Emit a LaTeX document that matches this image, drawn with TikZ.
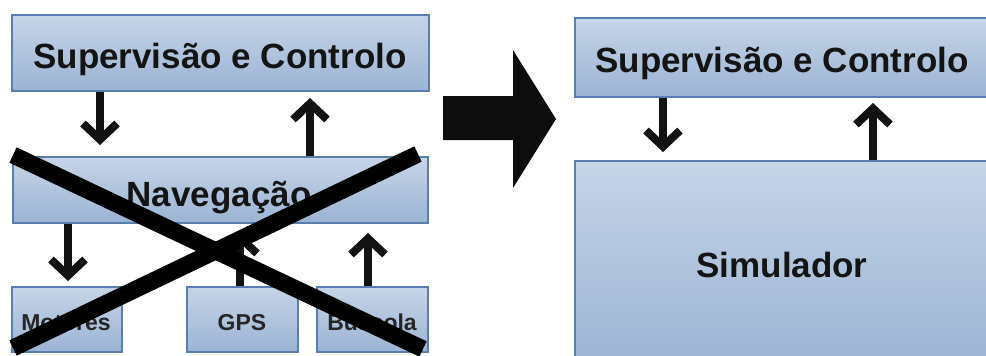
\documentclass[tikz,border=0pt]{standalone}
\usepackage{fontspec}
\setmainfont{Liberation Sans}
\usetikzlibrary{arrows.meta}
\definecolor{boxtop}{HTML}{C6D5E8}
\definecolor{boxbot}{HTML}{9BB3D4}
\definecolor{boxline}{HTML}{5A7EAD}
\tikzset{
  blk/.style={rectangle, draw=boxline, line width=1.3pt, top color=boxtop, bottom color=boxbot, inner sep=0pt},
  bigtxt/.style={font=\bfseries\fontsize{35}{40}\selectfont, inner sep=0pt, anchor=base, text=black!92},
  smalltxt/.style={font=\bfseries\fontsize{23}{26}\selectfont, inner sep=0pt, anchor=base, text=black!85},
  flow/.style={draw=black!93, line width=8pt, -{Straight Barb[length=16pt,width=34pt,line width=8pt]}},
  cross/.style={draw=black, line width=17pt},
  bigarrow/.style={fill=black!95},
}
\begin{document}
\begin{tikzpicture}[x=1pt,y=-1pt]
\useasboundingbox (0,0) rectangle (986,356);
\clip (0,0) rectangle (986,356);
% left side boxes
\node[blk, minimum width=417pt, minimum height=76pt] (sc1) at (220.5,53) {};
\node[blk, minimum width=415pt, minimum height=66pt] (nav) at (220.5,190) {};
\node[blk, minimum width=110pt, minimum height=65pt] (mot) at (67,319.5) {};
\node[blk, minimum width=111pt, minimum height=65pt] (gps) at (242.5,319.5) {};
\node[blk, minimum width=111pt, minimum height=65pt] (bus) at (372.5,319.5) {};
% right side boxes
\node[blk, minimum width=415pt, minimum height=79pt] (sc2) at (782.5,57.5) {};
\node[blk, minimum width=415pt, minimum height=208pt] (sim) at (782.5,265) {};
% labels
\node[bigtxt] (t1) at (220,68) {Supervisão e Controlo};
\node[bigtxt] (t2) at (219,206) {Navegação};
\node[smalltxt] (t3) at (66,330) {Motores};
\node[smalltxt] (t4) at (242,330) {GPS};
\node[smalltxt] (t5) at (372,330) {Bússola};
\node[bigtxt] (t6) at (782,72) {Supervisão e Controlo};
\node[bigtxt] (t7) at (782,277) {Simulador};
% arrow end points
\coordinate (a1) at (100,145);
\coordinate (a2) at (310,98);
\coordinate (a3) at (68,281);
\coordinate (a4) at (240,232);
\coordinate (a5) at (368,233);
\coordinate (a6) at (663,152);
\coordinate (a7) at (873,103);
\draw[flow] (sc1.south -| a1) -- (a1);
\draw[flow] (nav.north -| a2) -- (a2);
\draw[flow] (nav.south -| a3) -- (a3);
\draw[flow] (gps.north -| a4) -- (a4);
\draw[flow] (bus.north -| a5) -- (a5);
\draw[flow] (sc2.south -| a6) -- (a6);
\draw[flow] (sim.north -| a7) -- (a7);
% cross
\coordinate (x1a) at (13,155);
\coordinate (x1b) at (423,349);
\coordinate (x2a) at (418,154);
\coordinate (x2b) at (13,348);
\draw[cross] (x1a) -- (x1b);
\draw[cross] (x2a) -- (x2b);
% big arrow
\fill[bigarrow] (443,96) -- (513,96) -- (513,50) -- (556,119) -- (513,188) -- (513,140) -- (443,140) -- cycle;
\end{tikzpicture}
\end{document}
